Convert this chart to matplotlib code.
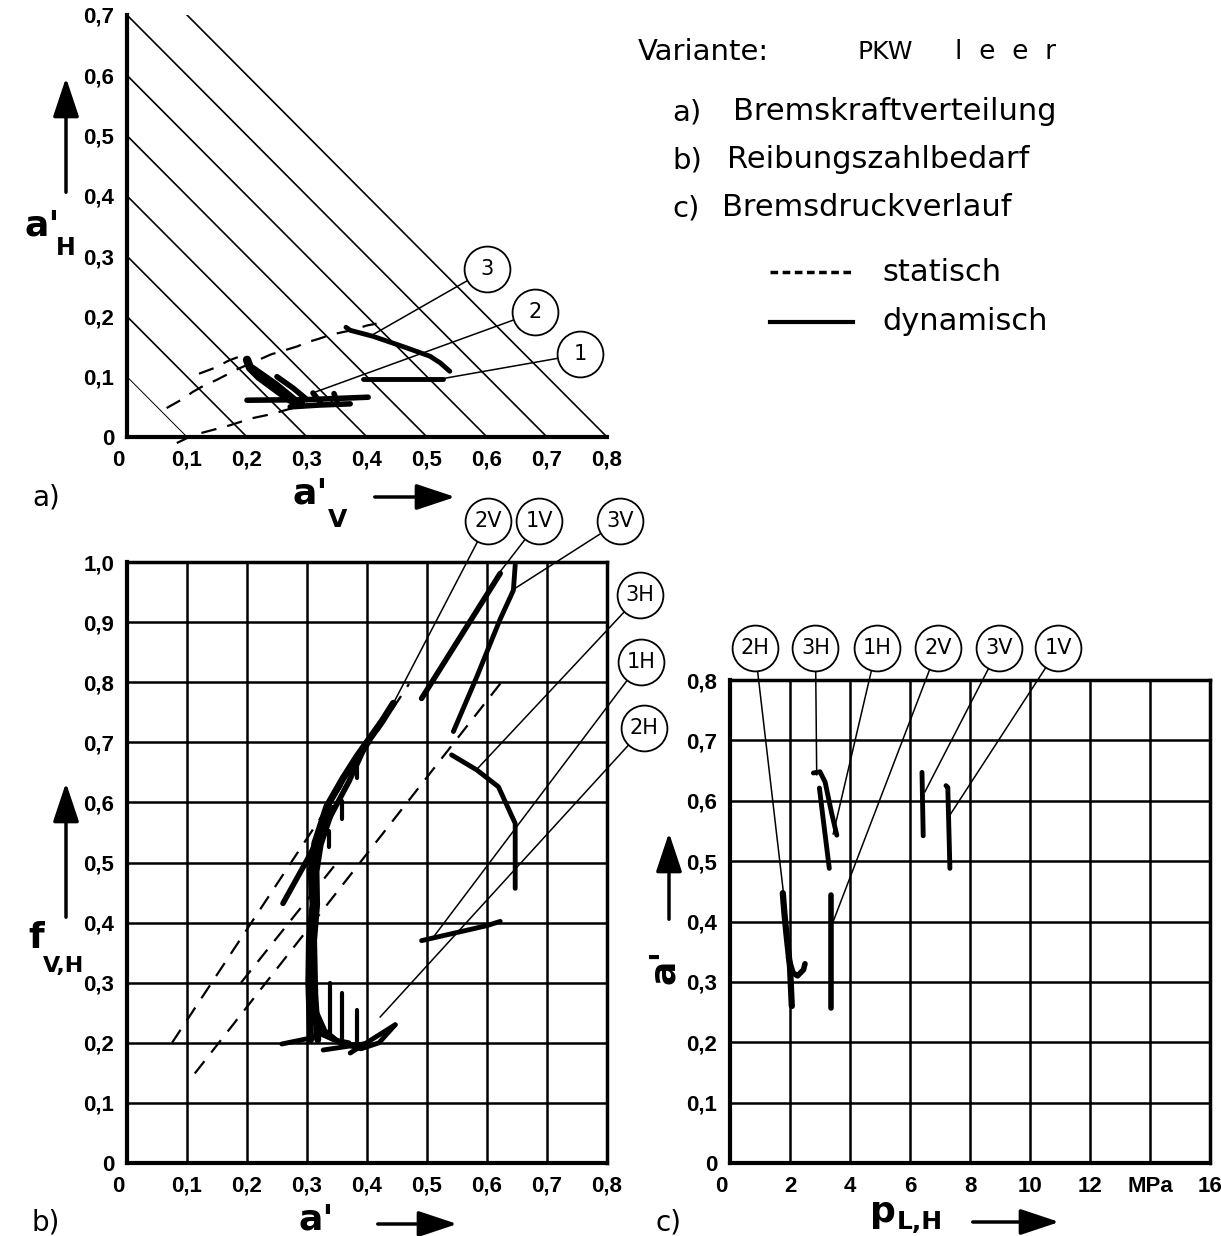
import matplotlib
matplotlib.use("Agg")
import matplotlib.pyplot as plt
from matplotlib.patches import FancyArrowPatch
from matplotlib.lines import Line2D
from matplotlib.transforms import ScaledTranslation

W, H = 1221, 1236
TICK_FONT = ['Liberation Sans', 'DejaVu Sans']
plt.rcParams['font.family'] = ['DejaVu Sans']

# ---------------- a) Bremskraftverteilung ----------------
a_xticks = [0, 0.1, 0.2, 0.3, 0.4, 0.5, 0.6, 0.7, 0.8]
a_xlabels = ['0', '0,1', '0,2', '0,3', '0,4', '0,5', '0,6', '0,7', '0,8']
a_yticks = [0, 0.1, 0.2, 0.3, 0.4, 0.5, 0.6, 0.7]
a_ylabels = ['0', '0,1', '0,2', '0,3', '0,4', '0,5', '0,6', '0,7']
a_diag = [0.1, 0.2, 0.3, 0.4, 0.5, 0.6, 0.7, 0.8]   # a'V + a'H = const

# static (dashed)
a_stat1_x = [0.066, 0.091, 0.11, 0.124, 0.15, 0.183, 0.24, 0.283, 0.30, 0.32, 0.341, 0.374, 0.40, 0.416]
a_stat1_y = [0.048, 0.062, 0.075, 0.083, 0.095, 0.112, 0.137, 0.15, 0.157, 0.163, 0.17, 0.177, 0.185, 0.188]
a_stat2_x = [0.12, 0.147, 0.17, 0.2]
a_stat2_y = [0.105, 0.115, 0.127, 0.138]
a_stat3_x = [0.083, 0.11, 0.144, 0.17, 0.208, 0.241, 0.283]
a_stat3_y = [-0.01, 0.003, 0.012, 0.019, 0.031, 0.038, 0.05]

# dynamic (solid)
a_dyn3_x = [0.365, 0.372, 0.41, 0.46, 0.505, 0.522, 0.538]
a_dyn3_y = [0.182, 0.177, 0.167, 0.15, 0.134, 0.123, 0.109]
a_dyn1_x = [0.394, 0.527]
a_dyn1_y = [0.097, 0.097]
a_dyn2_x = [0.2, 0.205, 0.22, 0.25, 0.272, 0.29]
a_dyn2_y = [0.128, 0.115, 0.1, 0.078, 0.062, 0.056]
a_dyn2_flat_x = [0.2, 0.3, 0.402]
a_dyn2_flat_y = [0.061, 0.062, 0.066]
a_dyn2_strokes = [([0.21, 0.25, 0.288], [0.115, 0.087, 0.056]),
                  ([0.25, 0.277, 0.3], [0.1, 0.081, 0.062]),
                  ([0.31, 0.322], [0.073, 0.058]),
                  ([0.345, 0.35], [0.072, 0.058]),
                  ([0.272, 0.32, 0.372], [0.05, 0.053, 0.055])]

a_bubbles = [('3', 0.60, 0.278, 0.405, 0.167),
             ('2', 0.68, 0.207, 0.315, 0.075),
             ('1', 0.755, 0.137, 0.527, 0.097)]

# ---------------- b) Reibungszahlbedarf ----------------
b_xticks = a_xticks
b_xlabels = a_xlabels
b_yticks = [0, 0.1, 0.2, 0.3, 0.4, 0.5, 0.6, 0.7, 0.8, 0.9, 1.0]
b_ylabels = ['0', '0,1', '0,2', '0,3', '0,4', '0,5', '0,6', '0,7', '0,8', '0,9', '1,0']

b_stat_a_x = [0.075, 0.47]
b_stat_a_y = [0.20, 0.797]
b_stat_b_x = [0.113, 0.624]
b_stat_b_y = [0.149, 0.80]
b_stat_c_x = [0.19, 0.35]
b_stat_c_y = [0.30, 0.50]

b_2v_x = [0.306, 0.303, 0.304, 0.31, 0.307, 0.313, 0.333, 0.36, 0.383, 0.40, 0.425, 0.444]
b_2v_y = [0.205, 0.30, 0.37, 0.43, 0.485, 0.532, 0.593, 0.64, 0.676, 0.70, 0.735, 0.765]
b_band2_x = [0.318, 0.313, 0.311, 0.316, 0.315, 0.322, 0.342]
b_band2_y = [0.205, 0.28, 0.37, 0.43, 0.485, 0.53, 0.59]
b_branch_x = [0.26, 0.30, 0.33, 0.37, 0.40]
b_branch_y = [0.432, 0.504, 0.56, 0.635, 0.70]
b_ticks_top = [(0.336, 0.526, 0.552), (0.358, 0.572, 0.603), (0.383, 0.64, 0.668)]
b_fan = [([0.306, 0.31, 0.322, 0.345, 0.37], [0.30, 0.24, 0.215, 0.205, 0.20]),
         ([0.31, 0.318, 0.335, 0.36, 0.40], [0.28, 0.235, 0.21, 0.198, 0.195]),
         ([0.312, 0.33, 0.355, 0.39, 0.42, 0.447], [0.26, 0.22, 0.20, 0.19, 0.20, 0.23])]
b_ticks_bottom = [(0.338, 0.21, 0.30), (0.359, 0.205, 0.283), (0.384, 0.194, 0.254)]
b_2h_flat = [([0.258, 0.316], [0.198, 0.21]),
             ([0.327, 0.40], [0.188, 0.199]),
             ([0.372, 0.447], [0.183, 0.23])]
b_1h_x = [0.491, 0.60, 0.622]
b_1h_y = [0.37, 0.395, 0.402]
b_3h_x = [0.541, 0.583, 0.619, 0.647, 0.647]
b_3h_y = [0.679, 0.654, 0.626, 0.565, 0.457]
b_3v_x = [0.544, 0.583, 0.622, 0.644, 0.647]
b_3v_y = [0.718, 0.809, 0.905, 0.953, 0.995]
b_1v_x = [0.491, 0.622]
b_1v_y = [0.773, 0.981]

b_bubbles = [('2V', 0.602, 1.068, 0.444, 0.765),
             ('1V', 0.687, 1.068, 0.615, 0.975),
             ('3V', 0.822, 1.068, 0.645, 0.955),
             ('3H', 0.855, 0.945, 0.583, 0.655),
             ('1H', 0.857, 0.834, 0.51, 0.375),
             ('2H', 0.862, 0.724, 0.422, 0.243)]

# ---------------- c) Bremsdruckverlauf ----------------
c_xticks = [0, 2, 4, 6, 8, 10, 12, 14, 16]
c_xlabels = ['0', '2', '4', '6', '8', '10', '12', 'MPa', '16']
c_yticks = [0, 0.1, 0.2, 0.3, 0.4, 0.5, 0.6, 0.7, 0.8]
c_ylabels = ['0', '0,1', '0,2', '0,3', '0,4', '0,5', '0,6', '0,7', '0,8']

c_2h_x = [1.76, 1.82, 1.89, 2.0, 2.06]
c_2h_y = [0.447, 0.41, 0.375, 0.325, 0.26]
c_2h_hook_x = [1.95, 2.1, 2.25, 2.45, 2.5]
c_2h_hook_y = [0.34, 0.315, 0.31, 0.32, 0.33]
c_3h_x = [2.78, 3.0, 3.17, 3.39, 3.56]
c_3h_y = [0.646, 0.648, 0.631, 0.579, 0.543]
c_1h_x = [2.98, 3.11, 3.31]
c_1h_y = [0.621, 0.568, 0.488]
c_2v_x = [3.37, 3.37]
c_2v_y = [0.444, 0.257]
c_3v_x = [6.40, 6.44]
c_3v_y = [0.647, 0.542]
c_1v_x = [7.20, 7.26, 7.33]
c_1v_y = [0.625, 0.622, 0.488]

c_bubbles = [('2H', 0.83, 0.853, 1.79, 0.444),
             ('3H', 2.85, 0.853, 2.89, 0.643),
             ('1H', 4.89, 0.853, 3.44, 0.545),
             ('2V', 6.93, 0.853, 3.44, 0.40),
             ('3V', 8.97, 0.853, 6.5, 0.615),
             ('1V', 10.95, 0.853, 7.3, 0.574)]

fig = plt.figure(figsize=(W / 100, H / 100), dpi=100)


def fxy(x, y):
    return x / W, 1 - y / H


def make_axes(left, top, right, bottom):
    ax = fig.add_axes([left / W, 1 - bottom / H, (right - left) / W, (bottom - top) / H])
    ax.patch.set_alpha(0)
    return ax


def style_ticks(ax, xt, xl, yt, yl):
    ax.set_xticks(xt)
    ax.set_xticklabels(xl, family=TICK_FONT, weight='bold', fontsize=16)
    ax.set_yticks(yt)
    ax.set_yticklabels(yl, family=TICK_FONT, weight='bold', fontsize=16)
    ax.tick_params(length=0, pad=9)
    lab = ax.get_xticklabels()[0]
    lab.set_transform(lab.get_transform() + ScaledTranslation(-9 / 100, 0, fig.dpi_scale_trans))


def arrow(x0, y0, x1, y1):
    fig.add_artist(FancyArrowPatch(fxy(x0, y0), fxy(x1, y1), transform=fig.transFigure,
                                   arrowstyle='-|>,head_length=1.2,head_width=0.4',
                                   mutation_scale=20, lw=2.5, color='black'))


def bubble(ax, label, cx, cy, tx, ty):
    ax.plot([cx, tx], [cy, ty], color='black', lw=1.1, clip_on=False, zorder=5)
    ax.plot(cx, cy, 'o', ms=33, mfc='white', mec='black', mew=1.3, clip_on=False, zorder=6)
    ax.text(cx, cy, label, ha='center', va='center', fontsize=15, zorder=7, clip_on=False)


def dyn(ax, x, y, lw=4.0):
    ax.plot(x, y, color='black', lw=lw, solid_capstyle='round', solid_joinstyle='round', zorder=4)


def stat(ax, x, y):
    ax.plot(x, y, color='black', lw=1.6, ls=(0, (7, 5)), zorder=3, clip_on=False)


# ---- panel a
ax = make_axes(127, 15, 607, 437)
ax.set_xlim(0, 0.8)
ax.set_ylim(0, 0.7)
for s in ['top', 'right']:
    ax.spines[s].set_visible(False)
for s in ['left', 'bottom']:
    ax.spines[s].set_linewidth(3)
style_ticks(ax, a_xticks, a_xlabels, a_yticks, a_ylabels)
for c in a_diag:
    ax.plot([0, c], [c, 0], color='black', lw=0.7 if c < 0.15 else 1.2, zorder=2)
stat(ax, a_stat1_x, a_stat1_y)
stat(ax, a_stat2_x, a_stat2_y)
stat(ax, a_stat3_x, a_stat3_y)
dyn(ax, a_dyn3_x, a_dyn3_y, 3.5)
dyn(ax, a_dyn1_x, a_dyn1_y, 3.5)
dyn(ax, a_dyn2_x, a_dyn2_y, 6)
dyn(ax, a_dyn2_flat_x, a_dyn2_flat_y, 4)
for sx, sy in a_dyn2_strokes:
    dyn(ax, sx, sy, 4)
for b in a_bubbles:
    bubble(ax, *b)

# ---- panel b
ax = make_axes(127, 562, 607, 1163)
ax.set_xlim(0, 0.8)
ax.set_ylim(0, 1.0)
style_ticks(ax, b_xticks, b_xlabels, b_yticks, b_ylabels)
ax.grid(True, color='black', lw=1.8)
ax.set_axisbelow(True)
for s in ax.spines.values():
    s.set_linewidth(2.5)
ax.spines['left'].set_linewidth(3)
ax.spines['bottom'].set_linewidth(3)
stat(ax, b_stat_a_x, b_stat_a_y)
stat(ax, b_stat_b_x, b_stat_b_y)
stat(ax, b_stat_c_x, b_stat_c_y)
dyn(ax, b_2v_x, b_2v_y, 5)
dyn(ax, b_band2_x, b_band2_y, 5)
dyn(ax, b_branch_x, b_branch_y, 4)
for tx, y0, y1 in b_ticks_top + b_ticks_bottom:
    dyn(ax, [tx, tx], [y0, y1], 3)
for fx, fy in b_fan + b_2h_flat:
    dyn(ax, fx, fy, 3.5)
dyn(ax, b_1h_x, b_1h_y, 3.5)
dyn(ax, b_3h_x, b_3h_y, 3.5)
dyn(ax, b_3v_x, b_3v_y, 3.5)
dyn(ax, b_1v_x, b_1v_y, 4)
for b in b_bubbles:
    bubble(ax, *b)

# ---- panel c
ax = make_axes(730, 680, 1210, 1163)
ax.set_xlim(0, 16)
ax.set_ylim(0, 0.8)
style_ticks(ax, c_xticks, c_xlabels, c_yticks, c_ylabels)
ax.grid(True, color='black', lw=1.8)
ax.set_axisbelow(True)
for s in ax.spines.values():
    s.set_linewidth(2.5)
ax.spines['left'].set_linewidth(3)
ax.spines['bottom'].set_linewidth(3)
dyn(ax, c_2h_x, c_2h_y, 4.5)
dyn(ax, c_2h_hook_x, c_2h_hook_y, 4)
dyn(ax, c_3h_x, c_3h_y, 3.5)
dyn(ax, c_1h_x, c_1h_y, 3.5)
dyn(ax, c_2v_x, c_2v_y, 4)
dyn(ax, c_3v_x, c_3v_y, 3.5)
dyn(ax, c_1v_x, c_1v_y, 3.5)
for b in c_bubbles:
    bubble(ax, *b)

# ---- axis labels and arrows
bold = dict(weight='bold', ha='center', va='center')
fig.text(*fxy(42, 226), "a'", fontsize=26, **bold)
fig.text(*fxy(66, 248), "H", fontsize=17, **bold)
arrow(66, 195, 66, 75)
fig.text(*fxy(310, 493), "a'", fontsize=26, **bold)
fig.text(*fxy(338, 520), "V", fontsize=18, **bold)
arrow(372, 497, 458, 497)

fig.text(*fxy(36, 938), "f", fontsize=26, **bold)
fig.text(*fxy(64, 966), "V,H", fontsize=16, **bold)
arrow(66, 920, 66, 780)
fig.text(*fxy(316, 1220), "a'", fontsize=26, **bold)
arrow(375, 1224, 460, 1224)

fig.text(*fxy(664, 966), "a'", fontsize=26, rotation=90, **bold)
arrow(669, 922, 669, 830)
fig.text(*fxy(883, 1212), "p", fontsize=26, **bold)
fig.text(*fxy(920, 1222), "L,H", fontsize=18, **bold)
arrow(970, 1222, 1062, 1222)

fig.text(*fxy(32, 497), "a)", fontsize=20, va='center')
fig.text(*fxy(32, 1222), "b)", fontsize=20, va='center')
fig.text(*fxy(655, 1222), "c)", fontsize=20, va='center')

# ---- header / legend
fig.text(*fxy(638, 52), "Variante:", fontsize=21, va='center')
fig.text(*fxy(858, 52), "PKW", fontsize=18, va='center')
fig.text(*fxy(955, 52), "l  e  e  r", fontsize=19, va='center')
fig.text(*fxy(672, 112), "a)", fontsize=21, va='center')
fig.text(*fxy(733, 112), "Bremskraftverteilung", fontsize=22, va='center')
fig.text(*fxy(672, 160), "b)", fontsize=21, va='center')
fig.text(*fxy(727, 160), "Reibungszahlbedarf", fontsize=22, va='center')
fig.text(*fxy(672, 208), "c)", fontsize=21, va='center')
fig.text(*fxy(722, 208), "Bremsdruckverlauf", fontsize=22, va='center')

x0, y0 = fxy(770, 272)
x1, _ = fxy(852, 272)
fig.add_artist(Line2D([x0, x1], [y0, y0], transform=fig.transFigure, color='black',
                      lw=2.5, ls=(0, (2.2, 1.3))))
x0, y0 = fxy(770, 322)
x1, _ = fxy(853, 322)
fig.add_artist(Line2D([x0, x1], [y0, y0], transform=fig.transFigure, color='black', lw=3))
fig.text(*fxy(882, 272), "statisch", fontsize=22, va='center')
fig.text(*fxy(882, 322), "dynamisch", fontsize=22, va='center')

fig.savefig('out.png', dpi=100)
